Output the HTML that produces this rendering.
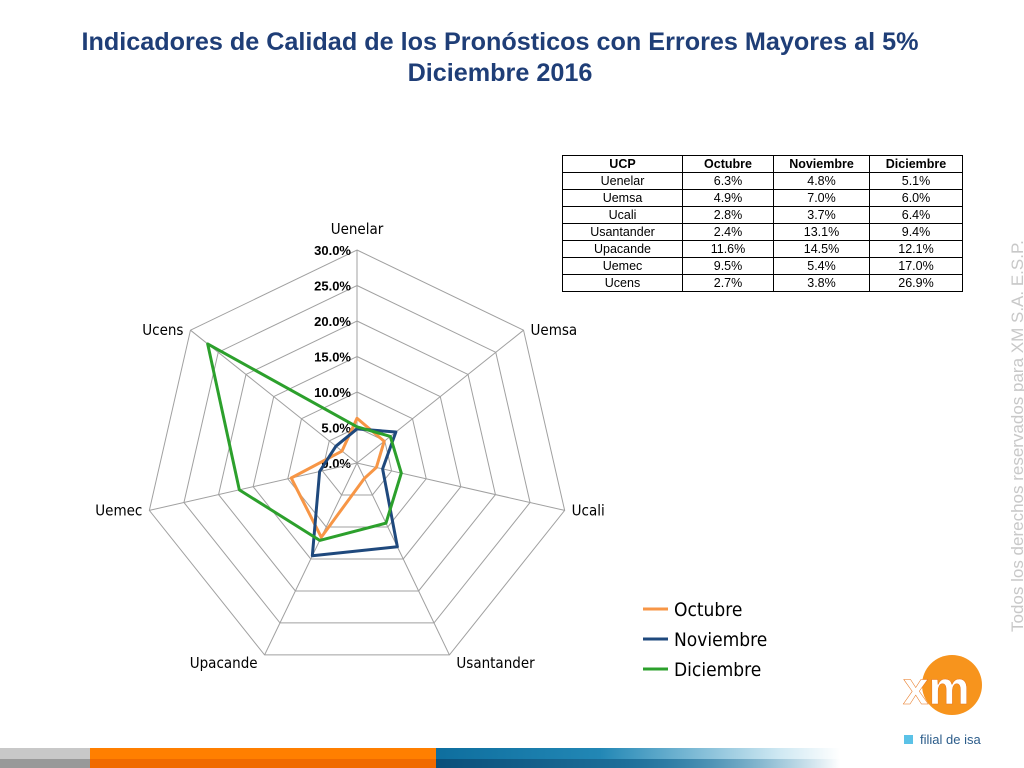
<!DOCTYPE html>
<html><head><meta charset="utf-8"><style>
body{margin:0;width:1024px;height:768px;overflow:hidden;background:#fff;font-family:"Liberation Sans",sans-serif;position:relative}
.title{position:absolute;left:0;width:1000px;text-align:center;top:27px;color:#1F3E77;font-weight:bold;font-size:25.2px;line-height:31px}
table{position:absolute;left:562px;top:155px;border-collapse:collapse;font-size:12.5px}
td,th{border:1px solid #000;text-align:center;padding:0;height:16px;line-height:16px}
th{font-weight:bold}
.side{position:absolute;left:1008px;top:632px;transform-origin:0 0;transform:rotate(-90deg);color:#C8C8C8;font-size:17px;white-space:nowrap}
</style></head><body>
<div class="title">Indicadores de Calidad de los Pronósticos con Errores Mayores al 5%<br>Diciembre 2016</div>
<table>
<tr><th style="width:119px">UCP</th><th style="width:90px">Octubre</th><th style="width:95px">Noviembre</th><th style="width:92px">Diciembre</th></tr>
<tr><td>Uenelar</td><td>6.3%</td><td>4.8%</td><td>5.1%</td></tr>
<tr><td>Uemsa</td><td>4.9%</td><td>7.0%</td><td>6.0%</td></tr>
<tr><td>Ucali</td><td>2.8%</td><td>3.7%</td><td>6.4%</td></tr>
<tr><td>Usantander</td><td>2.4%</td><td>13.1%</td><td>9.4%</td></tr>
<tr><td>Upacande</td><td>11.6%</td><td>14.5%</td><td>12.1%</td></tr>
<tr><td>Uemec</td><td>9.5%</td><td>5.4%</td><td>17.0%</td></tr>
<tr><td>Ucens</td><td>2.7%</td><td>3.8%</td><td>26.9%</td></tr>
</table>
<div class="side">Todos los derechos reservados para XM S.A. E.S.P.</div>
<svg id="chart" width="1024" height="768" style="position:absolute;left:0;top:0"></svg>
<div style="position:absolute;left:0;top:748px;width:1024px;height:20px;background:linear-gradient(to right,#C8C8C8 0,#C8C8C8 90px,#FF7F00 90px,#FF7F00 436px,#0E6E9E 436px,#2287b5 600px,rgba(160,210,230,0.5) 780px,#fff 840px)"></div>
<div style="position:absolute;left:0;top:759px;width:840px;height:9px;background:linear-gradient(to right,#999 0,#999 90px,#F06A00 90px,#F06A00 436px,#0A4F7A 436px,#1a6a95 600px,rgba(255,255,255,0) 840px)"></div>
<svg width="1024" height="768" style="position:absolute;left:0;top:0">
<circle cx="952" cy="685" r="30" fill="#F7941D"/>
<text x="903" y="704" font-family="Liberation Sans" font-weight="bold" font-size="46" fill="#fff" stroke="#E8741A" stroke-width="0.5">xm</text>
<rect x="904" y="735" width="9" height="9" fill="#5BC2E7"/>
<text x="920" y="744" font-family="Liberation Sans" font-size="13" fill="#2B5C8A">filial de isa</text>
</svg>
<script>
const categories=["Uenelar","Uemsa","Ucali","Usantander","Upacande","Uemec","Ucens"];
const octubre=[6.3,4.9,2.8,2.4,11.6,9.5,2.7];
const noviembre=[4.8,7.0,3.7,13.1,14.5,5.4,3.8];
const diciembre=[5.1,6.0,6.4,9.4,12.1,17.0,26.9];
const ticks=["0.0%","5.0%","10.0%","15.0%","20.0%","25.0%","30.0%"];
const NS="http://www.w3.org/2000/svg";
const svg=document.getElementById('chart');
const cx=357,cy=463,R=213,max=30;
function pt(i,v){const a=(-90+i*360/categories.length)*Math.PI/180;const r=v/max*R;return [cx+r*Math.cos(a),cy+r*Math.sin(a)];}
function mk(t,attrs){const e=document.createElementNS(NS,t);for(const k in attrs)e.setAttribute(k,attrs[k]);svg.appendChild(e);return e;}
ticks.forEach((t,j)=>{const v=j*5;if(v>0){const ps=categories.map((c,i)=>pt(i,v).join(',')).join(' ');
const g=mk('polygon',{points:ps,fill:'none',stroke:'#A0A0A0','stroke-width':1});
}
const tx=mk('text',{x:cx-6,y:cy-v/max*R+5,'text-anchor':'end','font-size':13,'font-weight':'bold','font-family':'Liberation Sans'});
tx.textContent=t;

});
categories.forEach((c,i)=>{const [x,y]=pt(i,max);
const l=mk('line',{x1:cx,y1:cy,x2:x,y2:y,stroke:'#A0A0A0','stroke-width':1});

const a=(-90+i*360/categories.length)*Math.PI/180;const c0=Math.cos(a),s0=Math.sin(a);
let anchor='middle',lx=x,ly=y+5;
if(c0>0.1){anchor='start';lx=x+7;}else if(c0<-0.1){anchor='end';lx=x-7;}
if(s0<-0.9)ly=y-16;else if(s0>0.5)ly=y+13;
const t=mk('text',{x:lx,y:ly,'text-anchor':anchor,'font-size':15,'font-family':'DejaVu Sans Condensed, Liberation Sans'});
t.textContent=c;

});
const series=[["Octubre",octubre,"#F79646"],["Noviembre",noviembre,"#1F497D"],["Diciembre",diciembre,"#2CA02C"]];
series.forEach(([n,d,col],k)=>{const ps=d.map((v,i)=>pt(i,v).join(',')).join(' ');
const p=mk('polygon',{points:ps,fill:'none',stroke:col,'stroke-width':3,'stroke-linejoin':'round'});


const y=609+k*30;
const ll=mk('line',{x1:643,y1:y,x2:668,y2:y,stroke:col,'stroke-width':3});


const lt=mk('text',{x:674,y:y+7,'font-size':19,'font-family':'DejaVu Sans Condensed, Liberation Sans'});
lt.textContent=n;

});
</script>
</body></html>
